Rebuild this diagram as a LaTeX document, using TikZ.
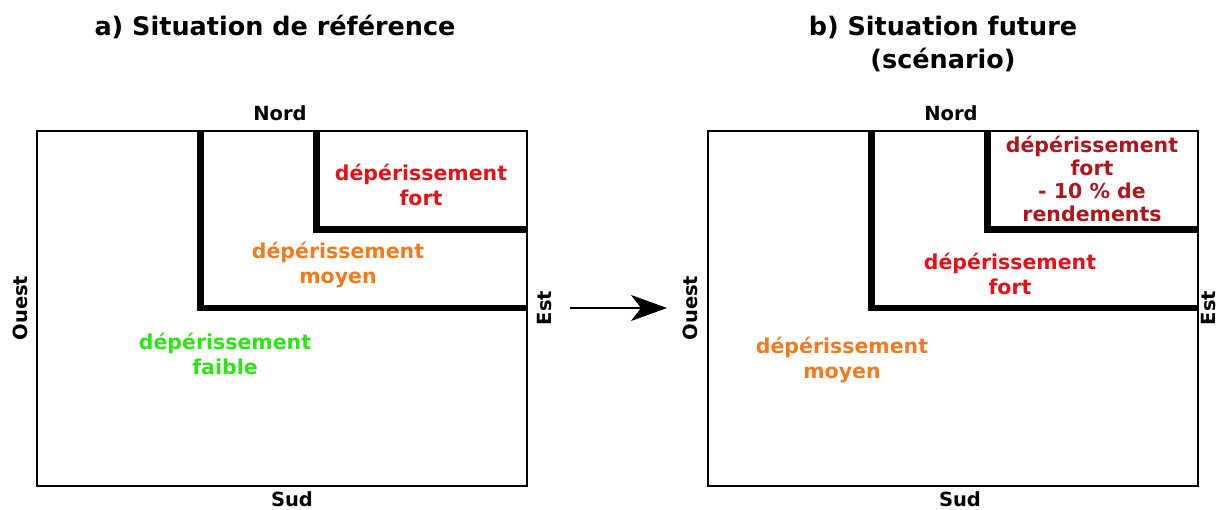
\documentclass[tikz,border=0pt]{standalone}
\usepackage{fontspec}
\setmainfont{DejaVu Sans}
\usepackage{xcolor}
\usetikzlibrary{arrows.meta}
\definecolor{zred}{RGB}{228,18,24}
\definecolor{zorange}{RGB}{242,122,32}
\definecolor{zgreen}{RGB}{45,228,20}
\definecolor{zdark}{RGB}{172,22,28}

\begin{document}
\begin{tikzpicture}[x=1pt, y=-1pt,
  frame/.style={draw=black, line width=2pt},
  limit/.style={line width=6.5pt},
  zone/.style={font=\fontsize{20.5}{25}\selectfont\bfseries, align=center, inner sep=0pt},
  side/.style={font=\fontsize{19.5}{22}\selectfont\bfseries, inner sep=0pt},
  ttl/.style={font=\fontsize{25.5}{33}\selectfont\bfseries, align=center, inner sep=0pt},
  arr/.style={-{Stealth[length=36pt, width=26pt, inset=10pt]}, line width=2pt}
]
\useasboundingbox (0,0) rectangle (1219,510);

% titles
\node[ttl] (ttlA) at (275,27) {a) Situation de référence};
\node[ttl] (ttlB) at (943,44) {b) Situation future\\(scénario)};

% a) reference situation
\draw[frame] (37,131) rectangle (527,486);
\draw[limit] (200.5,131) |- (527,308);
\draw[limit] (316.5,131) |- (527,229.5);
\node[side] (nordA)  at (280,113) {Nord};
\node[side] (sudA)   at (292,499) {Sud};
\node[side, rotate=90] (ouestA) at (20,308) {Ouest};
\node[side, rotate=90] (estA)   at (545,308) {Est};
\node[zone, text=zred]    (fortA)   at (421,185) {dépérissement\\fort};
\node[zone, text=zorange] (moyenA)  at (338,265) {dépérissement\\moyen};
\node[zone, text=zgreen]  (faibleA) at (225,354) {dépérissement\\faible};

% arrow
\coordinate (arrS) at (570,308);
\coordinate (arrE) at (667,308);
\draw[arr] (arrS) -- (arrE);

% b) future situation
\draw[frame] (708,131) rectangle (1198,486);
\draw[limit] (871.5,131) |- (1198,308);
\draw[limit] (987.5,131) |- (1198,229.5);
\node[side] (nordB)  at (951,113) {Nord};
\node[side] (sudB)   at (960,499) {Sud};
\node[side, rotate=90] (ouestB) at (690,308) {Ouest};
\node[side, rotate=90] (estB)   at (1209,308) {Est};
\node[zone, text=zdark, font=\fontsize{20.5}{23}\selectfont\bfseries] (rendB) at (1092,179) {dépérissement\\fort\\- 10 \% de\\rendements};
\node[zone, text=zred]    (fortB)  at (1010,274) {dépérissement\\fort};
\node[zone, text=zorange] (moyenB) at (842,360) {dépérissement\\moyen};
\end{tikzpicture}
\end{document}
